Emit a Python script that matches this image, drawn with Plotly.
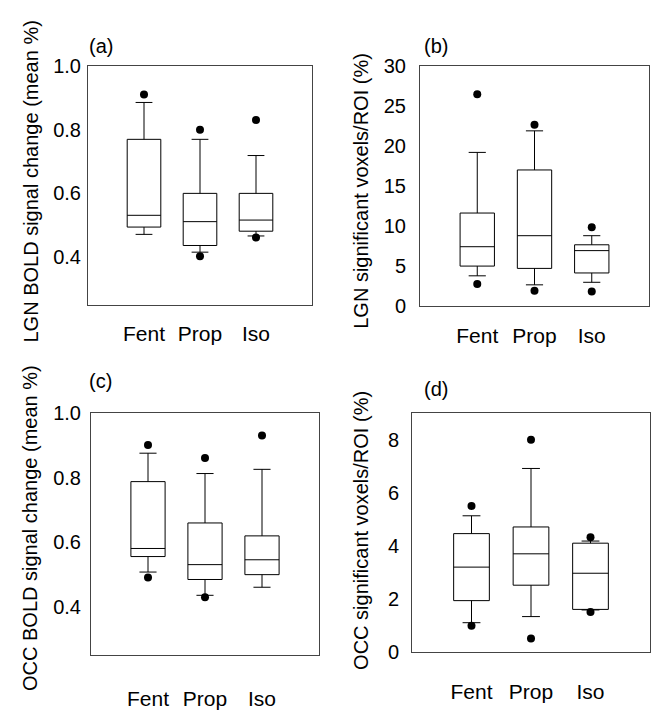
import plotly.graph_objects as go

groups = ["Fent", "Prop", "Iso"]

# (a) LGN BOLD signal change (mean %)
a_low = [0.471, 0.415, 0.466]
a_q1 = [0.494, 0.436, 0.481]
a_median = [0.531, 0.511, 0.516]
a_q3 = [0.770, 0.600, 0.600]
a_high = [0.886, 0.770, 0.719]
a_out_groups = ["Fent", "Prop", "Prop", "Iso", "Iso"]
a_out_values = [0.911, 0.800, 0.402, 0.831, 0.461]

# (b) LGN significant voxels/ROI (%)
b_low = [3.73, 2.60, 2.92]
b_q1 = [4.95, 4.66, 4.09]
b_median = [7.38, 8.76, 6.89]
b_q3 = [11.6, 17.0, 7.62]
b_high = [19.2, 21.9, 8.76]
b_out_groups = ["Fent", "Fent", "Prop", "Prop", "Iso", "Iso"]
b_out_values = [26.5, 2.72, 22.66, 1.86, 9.81, 1.78]

# (c) OCC BOLD signal change (mean %)
c_low = [0.508, 0.436, 0.461]
c_q1 = [0.556, 0.485, 0.500]
c_median = [0.581, 0.531, 0.546]
c_q3 = [0.788, 0.660, 0.620]
c_high = [0.876, 0.813, 0.826]
c_out_groups = ["Fent", "Fent", "Prop", "Prop", "Iso"]
c_out_values = [0.901, 0.491, 0.861, 0.430, 0.931]

# (d) OCC significant voxels/ROI (%)
d_low = [1.12, 1.35, 1.60]
d_q1 = [1.95, 2.53, 1.62]
d_median = [3.21, 3.71, 2.98]
d_q3 = [4.47, 4.72, 4.11]
d_high = [5.14, 6.92, 4.19]
d_out_groups = ["Fent", "Fent", "Prop", "Prop", "Iso", "Iso"]
d_out_values = [5.51, 1.01, 8.00, 0.53, 4.33, 1.52]

panels = [
    dict(low=a_low, q1=a_q1, med=a_median, q3=a_q3, high=a_high,
         og=a_out_groups, ov=a_out_values, xa="x", ya="y"),
    dict(low=b_low, q1=b_q1, med=b_median, q3=b_q3, high=b_high,
         og=b_out_groups, ov=b_out_values, xa="x2", ya="y2"),
    dict(low=c_low, q1=c_q1, med=c_median, q3=c_q3, high=c_high,
         og=c_out_groups, ov=c_out_values, xa="x3", ya="y3"),
    dict(low=d_low, q1=d_q1, med=d_median, q3=d_q3, high=d_high,
         og=d_out_groups, ov=d_out_values, xa="x4", ya="y4"),
]

FONT = "Liberation Sans, Arial, sans-serif"
fig = go.Figure()
for p in panels:
    fig.add_trace(go.Box(
        x=groups, q1=p["q1"], median=p["med"], q3=p["q3"],
        lowerfence=p["low"], upperfence=p["high"],
        boxpoints=False, width=0.6, whiskerwidth=0.5,
        fillcolor="white", line=dict(color="black", width=1),
        xaxis=p["xa"], yaxis=p["ya"], showlegend=False, hoverinfo="skip"))
    fig.add_trace(go.Scatter(
        x=p["og"], y=p["ov"], mode="markers",
        marker=dict(color="black", size=8),
        xaxis=p["xa"], yaxis=p["ya"], showlegend=False))

W, H = 651, 710
def dom_x(l, r):
    return [l / W, r / W]
def dom_y(t, b):
    return [1 - b / H, 1 - t / H]

common_x = dict(type="category", categoryorder="array", categoryarray=groups,
                range=[-1, 3], showgrid=False, zeroline=False,
                showline=True, mirror=True, linecolor="#444", linewidth=1,
                ticks="outside", tickcolor="rgba(0,0,0,0)",
                tickfont=dict(size=21, color="black", family=FONT))
common_y = dict(showgrid=False, zeroline=False, showline=True, mirror=True,
                linecolor="#444", linewidth=1, ticks="outside",
                tickcolor="rgba(0,0,0,0)",
                tickfont=dict(size=20, color="black", family=FONT))

fig.update_layout(
    width=W, height=H, margin=dict(l=0, r=0, t=0, b=0),
    paper_bgcolor="white", plot_bgcolor="white",
    font=dict(family=FONT, color="black", size=20),
    xaxis=dict(common_x, domain=dom_x(88, 312), anchor="y", ticklen=10),
    yaxis=dict(common_y, domain=dom_y(57, 303), anchor="x", range=[0.25, 1.0],
               tickvals=[0.4, 0.6, 0.8, 1.0], ticktext=["0.4", "0.6", "0.8", "1.0"], ticklen=2),
    xaxis2=dict(common_x, domain=dom_x(420, 649), anchor="y2", ticklen=11),
    yaxis2=dict(common_y, domain=dom_y(57, 304), anchor="x2", range=[0, 30],
                tickvals=[0, 5, 10, 15, 20, 25, 30], ticklen=9),
    xaxis3=dict(common_x, domain=dom_x(91, 319), anchor="y3", ticklen=24),
    yaxis3=dict(common_y, domain=dom_y(415, 665), anchor="x3", range=[0.25, 1.0],
                tickvals=[0.4, 0.6, 0.8, 1.0], ticktext=["0.4", "0.6", "0.8", "1.0"], ticklen=5),
    xaxis4=dict(common_x, domain=dom_x(412, 650), anchor="y4", ticklen=20),
    yaxis4=dict(common_y, domain=dom_y(415, 662), anchor="x4", range=[0, 9],
                tickvals=[0, 2, 4, 6, 8], ticklen=8),
)

annots = [
    dict(text="LGN BOLD signal change (mean %)", x=31 / W, y=1 - 176 / H, textangle=-90),
    dict(text="LGN significant voxels/ROI (%)", x=361 / W, y=1 - 185.5 / H, textangle=-90),
    dict(text="OCC BOLD signal change (mean %)", x=30 / W, y=1 - 533.5 / H, textangle=-90),
    dict(text="OCC significant voxels/ROI (%)", x=361 / W, y=1 - 536.5 / H, textangle=-90),
]
for a in annots:
    fig.add_annotation(xref="paper", yref="paper", showarrow=False,
                       xanchor="center", yanchor="middle",
                       font=dict(size=20, family=FONT, color="black"), **a)

labels = [("(a)", 87, 36), ("(b)", 422, 36), ("(c)", 87, 382), ("(d)", 422, 390)]
for t, x, y in labels:
    fig.add_annotation(xref="paper", yref="paper", showarrow=False, text=t,
                       x=x / W, y=1 - y / H, xanchor="left", yanchor="middle",
                       font=dict(size=20, family=FONT, color="black"))

fig.write_html("out.html", config={"displayModeBar": False},
               post_script="document.body.style.margin='0px';document.body.style.overflow='hidden';")
